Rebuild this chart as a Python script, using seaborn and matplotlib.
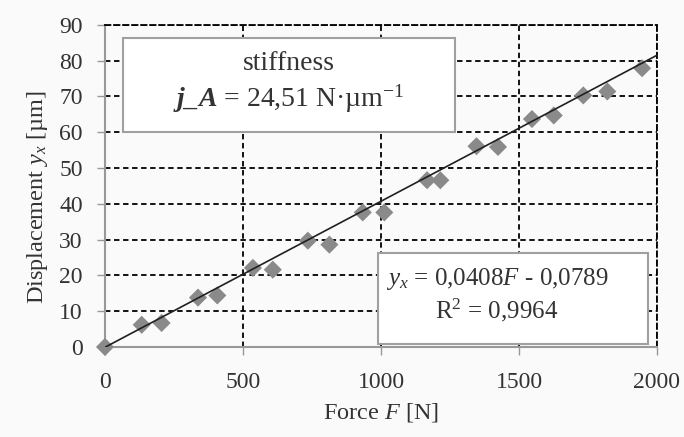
"""
Stiffness measurement: displacement vs force with linear fit
"""
import matplotlib
matplotlib.use("Agg")
import matplotlib.pyplot as plt
import seaborn as sns
import pandas as pd

force = [0, 133, 205, 337, 407, 536, 608, 735, 813, 934, 1012,
         1167, 1215, 1346, 1424, 1547, 1626, 1733, 1820, 1946]
displacement = [0, 6.2, 6.7, 13.8, 14.4, 22.1, 21.6, 29.7, 28.6, 37.6, 37.6,
                46.6, 46.6, 56.1, 55.9, 63.7, 64.7, 70.3, 71.4, 77.9]

# linear fit reported on the chart
slope = 0.0408
intercept = -0.0789
fit_range = [0, 2000]

x_ticks = [0, 500, 1000, 1500, 2000]
y_ticks = [0, 10, 20, 30, 40, 50, 60, 70, 80, 90]

sns.set_style("white")
plt.rcParams['font.family'] = ['Liberation Serif', 'DejaVu Serif']
plt.rcParams['mathtext.fontset'] = 'custom'
plt.rcParams['mathtext.rm'] = 'Liberation Serif'
plt.rcParams['mathtext.it'] = 'Liberation Serif:italic'
plt.rcParams['mathtext.bf'] = 'Liberation Serif:bold'
plt.rcParams['mathtext.bfit'] = 'Liberation Serif:bold:italic'

df = pd.DataFrame({'Force': force, 'Displacement': displacement})
fit = pd.DataFrame({'Force': fit_range,
                    'Displacement': [slope * f + intercept for f in fit_range]})

bg = '#fafafa'
txt = '#333333'
fig = plt.figure(figsize=(6.84, 4.37), dpi=100, facecolor=bg)
ax = fig.add_axes([0.1535, 0.206, 0.807, 0.737])
ax.set_facecolor(bg)

sns.scatterplot(data=df, x='Force', y='Displacement', marker='D', s=85,
                color='#8a8a8a', edgecolor='none', ax=ax, zorder=3, clip_on=False)
sns.lineplot(data=fit, x='Force', y='Displacement', color='#202020',
             linewidth=1.2, ax=ax, zorder=4)

ax.set_xlim(0, 2000)
ax.set_ylim(0, 90)
ax.set_xticks(x_ticks)
ax.set_yticks(y_ticks)
ax.tick_params(axis='both', labelsize=17, colors='#999999', labelcolor=txt,
               length=6, width=1, direction='out', left=True, bottom=True)
ax.tick_params(axis='y', pad=10)
ax.tick_params(axis='x', pad=12)

ax.grid(True, color='black', linestyle=(0, (3, 2)), linewidth=1.3, zorder=1)
ax.set_axisbelow(True)
for side in ['left', 'bottom']:
    ax.spines[side].set_color('#999999')
    ax.spines[side].set_linewidth(1.5)
for side in ['top', 'right']:
    ax.spines[side].set_color('black')
    ax.spines[side].set_linestyle((0, (3, 2)))
    ax.spines[side].set_linewidth(1.3)

ax.set_xlabel(r'Force $F$ [N]', fontsize=17.5, color=txt, labelpad=6)
ax.set_ylabel(r'Displacement $y_x$ [µm]', fontsize=17.5, color=txt, labelpad=4)
ax.yaxis.set_label_coords(-0.1, 0.465)

# stiffness box (top left)
ax.add_patch(plt.Rectangle((0.033, 2 / 3), 0.601, 0.294, transform=ax.transAxes,
                           facecolor='white', edgecolor='#a0a0a0', linewidth=1.5, zorder=5))
ax.text(0.333, 0.881, 'stiffness', transform=ax.transAxes, ha='center', va='center',
        fontsize=20, color=txt, zorder=6)
ax.text(0.333, 0.772, r'$\mathbfit{j\_A}$ = 24,51 N·µm$^{\mathrm{-1}}$', transform=ax.transAxes,
        ha='center', va='center', fontsize=20, color=txt, zorder=6)

# fit box (bottom right)
ax.add_patch(plt.Rectangle((0.495, 0.009), 0.489, 0.283, transform=ax.transAxes,
                           facecolor='white', edgecolor='#a0a0a0', linewidth=1.5, zorder=5))
ax.text(0.71, 0.211, r'$y_x$ = 0,0408$F$ - 0,0789', transform=ax.transAxes,
        ha='center', va='center', fontsize=18, color=txt, zorder=6)
ax.text(0.71, 0.115, r'R$^2$ = 0,9964', transform=ax.transAxes,
        ha='center', va='center', fontsize=18, color=txt, zorder=6)

plt.savefig('out.png', dpi=100, facecolor=bg)
